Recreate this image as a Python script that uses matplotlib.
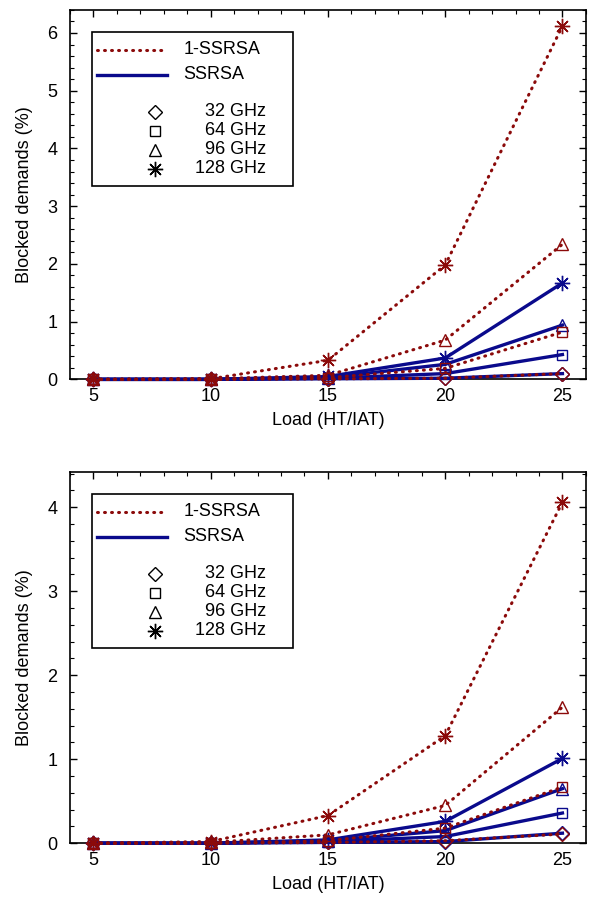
#!/usr/bin/env python3
"""Blocked demands vs. load for 1-SSRSA and SSRSA, two scenarios."""
import matplotlib

matplotlib.use("Agg")
import matplotlib.pyplot as plt
import matplotlib.ticker
from matplotlib.lines import Line2D
from matplotlib.patches import Rectangle

plt.rcParams["font.family"] = ["Liberation Sans", "DejaVu Sans"]
plt.rcParams["font.size"] = 12

loads = [5, 10, 15, 20, 25]
rates = ["32 GHz", "64 GHz", "96 GHz", "128 GHz"]
markers = ["D", "s", "^", (8, 2, 0)]
marker_sizes = [7, 7.5, 8.5, 11]

# top panel, blocked demands (%)
top_1ssrsa = {
    "32 GHz": [0.0, 0.0, 0.01, 0.02, 0.10],
    "64 GHz": [0.0, 0.0, 0.03, 0.19, 0.82],
    "96 GHz": [0.0, 0.01, 0.07, 0.68, 2.34],
    "128 GHz": [0.0, 0.01, 0.33, 1.98, 6.12],
}
top_ssrsa = {
    "32 GHz": [0.0, 0.0, 0.01, 0.02, 0.10],
    "64 GHz": [0.0, 0.0, 0.02, 0.10, 0.43],
    "96 GHz": [0.0, 0.0, 0.03, 0.26, 0.94],
    "128 GHz": [0.0, 0.0, 0.05, 0.37, 1.67],
}

# bottom panel, blocked demands (%)
bot_1ssrsa = {
    "32 GHz": [0.0, 0.0, 0.01, 0.03, 0.11],
    "64 GHz": [0.0, 0.0, 0.03, 0.18, 0.67],
    "96 GHz": [0.0, 0.01, 0.10, 0.45, 1.62],
    "128 GHz": [0.0, 0.02, 0.33, 1.28, 4.06],
}
bot_ssrsa = {
    "32 GHz": [0.0, 0.0, 0.01, 0.02, 0.12],
    "64 GHz": [0.0, 0.0, 0.02, 0.08, 0.36],
    "96 GHz": [0.0, 0.0, 0.03, 0.15, 0.65],
    "128 GHz": [0.0, 0.0, 0.04, 0.26, 1.01],
}

RED = "#8b0a0a"
BLUE = "#0a0a8c"
DOTS = (0, (0.3, 2.0))
FS = 13


def draw_legend(ax):
    """Hand-placed legend box (positions given as pixel offsets from the axes top)."""
    h = ax.bbox.height

    def fy(px):
        return 1 - px / h

    def fx(px):
        return px / ax.bbox.width

    ax.add_patch(Rectangle((fx(22), fy(176)), fx(201), fy(22) - fy(176),
                           transform=ax.transAxes, facecolor="white",
                           edgecolor="black", lw=1.2, zorder=10))
    ax.add_line(Line2D([fx(27), fx(97)], [fy(40), fy(40)], color=RED, lw=2.2,
                       linestyle=DOTS, dash_capstyle="round",
                       transform=ax.transAxes, zorder=11))
    ax.add_line(Line2D([fx(27), fx(97)], [fy(65), fy(65)], color=BLUE, lw=2.4,
                       transform=ax.transAxes, zorder=11))
    ax.text(fx(114), fy(40), "1-SSRSA", transform=ax.transAxes, va="center",
            ha="left", fontsize=FS, zorder=11)
    ax.text(fx(113), fy(65), "SSRSA", transform=ax.transAxes, va="center",
            ha="left", fontsize=FS, zorder=11)
    for i, (rate, marker, ms) in enumerate(zip(rates, markers, marker_sizes)):
        yy = fy(102 + 19 * i)
        ax.add_line(Line2D([fx(85)], [yy], color="black", linestyle="none",
                           marker=marker, ms=ms, mfc="none", mew=1.0,
                           transform=ax.transAxes, zorder=11))
        ax.text(fx(196), yy, rate, transform=ax.transAxes, va="center",
                ha="right", fontsize=FS, zorder=11)


def draw_panel(ax, data_1ssrsa, data_ssrsa, ymax):
    for rate, marker, ms in zip(rates, markers, marker_sizes):
        ax.plot(loads, data_ssrsa[rate], "-", color=BLUE, lw=2.4,
                marker=marker, ms=ms, mfc="none", mec=BLUE, mew=1.0,
                clip_on=False, zorder=3)
    for rate, marker, ms in zip(rates, markers, marker_sizes):
        ax.plot(loads, data_1ssrsa[rate], color=RED, lw=2.2,
                linestyle=DOTS, dash_capstyle="round",
                marker=marker, ms=ms, mfc="none", mec=RED, mew=1.0,
                clip_on=False, zorder=4)

    ax.set_xlim(4, 26)
    ax.set_ylim(0, ymax)
    ax.set_xticks(loads)
    ax.xaxis.set_minor_locator(matplotlib.ticker.MultipleLocator(1))
    ax.yaxis.set_major_locator(matplotlib.ticker.MultipleLocator(1))
    ax.yaxis.set_minor_locator(matplotlib.ticker.MultipleLocator(0.2))
    ax.tick_params(which="both", direction="in", top=True, right=True,
                   bottom=False, labelsize=FS)
    ax.tick_params(axis="x", pad=6)
    ax.tick_params(axis="y", pad=9)
    ax.tick_params(which="major", length=5, width=1)
    ax.tick_params(which="minor", length=3, width=0.8)
    for s in ax.spines.values():
        s.set_linewidth(1.2)
    ax.set_xlabel("Load (HT/IAT)", fontsize=FS, labelpad=5)
    ax.set_ylabel("Blocked demands (%)", fontsize=FS, labelpad=10)
    draw_legend(ax)


fig = plt.figure(figsize=(5.93, 8.99), dpi=100)
ax1 = fig.add_axes([0.118, 0.578, 0.870, 0.411])
ax2 = fig.add_axes([0.118, 0.062, 0.870, 0.413])

draw_panel(ax1, top_1ssrsa, top_ssrsa, 6.4)
draw_panel(ax2, bot_1ssrsa, bot_ssrsa, 4.42)

fig.savefig("out.png", dpi=100)
